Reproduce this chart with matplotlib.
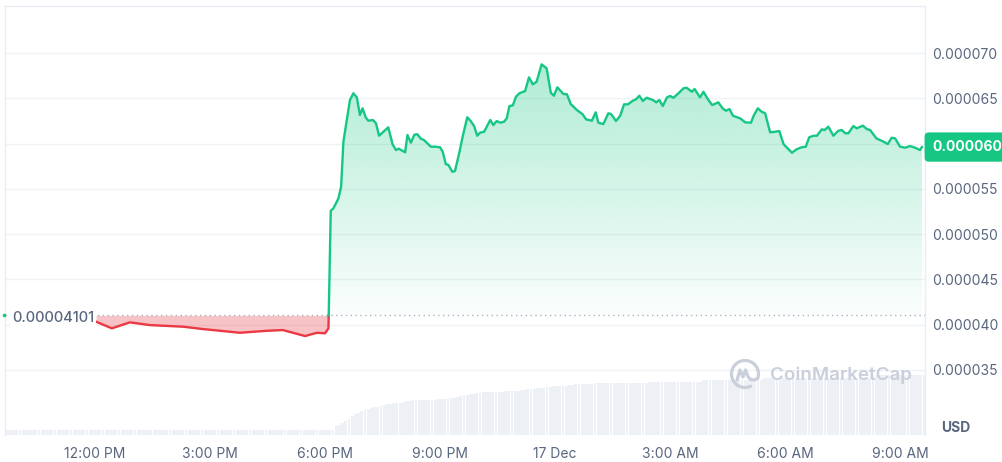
import numpy as np
import matplotlib
matplotlib.use('Agg')
import matplotlib.pyplot as plt
from matplotlib.patches import Polygon, Arc
from matplotlib.transforms import blended_transform_factory
from matplotlib.colors import to_rgb

plt.rcParams['font.family'] = ['Inter', 'DejaVu Sans']

# ---------------- data ----------------
# hours after 12:00 PM (16 Dec); price in micro-USD (1e-6 USD)
hours = [
    0.03, 0.44, 0.91, 1.43, 2.30, 2.82, 3.78, 4.49, 4.90, 5.48, 5.79, 6.00, 6.09,
    6.15, 6.22, 6.35, 6.42, 6.48, 6.57, 6.65, 6.74, 6.83, 6.91,
    6.98, 7.06, 7.13, 7.25, 7.33, 7.41, 7.65, 7.76, 7.85, 7.92,
    8.09, 8.15, 8.24, 8.33, 8.41, 8.50, 8.58, 8.76, 8.87, 9.00,
    9.07, 9.15, 9.22, 9.32, 9.39, 9.50, 9.59, 9.71, 9.80, 9.89,
    9.97, 10.04, 10.15, 10.31, 10.39, 10.48, 10.57, 10.67, 10.74, 10.81,
    10.90, 10.98, 11.07, 11.22, 11.32, 11.42, 11.52, 11.65, 11.78, 11.89,
    11.97, 12.06, 12.22, 12.31, 12.41, 12.57, 12.72, 12.81, 12.96, 13.06,
    13.13, 13.26, 13.39, 13.46, 13.59, 13.70, 13.80, 13.90, 14.03, 14.11,
    14.20, 14.29, 14.39, 14.55, 14.64, 14.72, 14.81, 14.92, 15.00, 15.09,
    15.22, 15.35, 15.43, 15.57, 15.64, 15.78, 15.87, 16.00, 16.10, 16.26,
    16.37, 16.46, 16.55, 16.64, 16.83, 16.96, 17.11, 17.19, 17.29, 17.39,
    17.48, 17.61, 17.74, 17.85, 17.96, 18.04, 18.18, 18.30, 18.43, 18.54,
    18.63, 18.74, 18.83, 18.96, 19.03, 19.13, 19.26, 19.39, 19.48, 19.57,
    19.65, 19.78, 19.87, 20.03, 20.13, 20.22, 20.38, 20.57, 20.68, 20.78,
    20.87, 21.00, 21.13, 21.26, 21.39, 21.52, 21.57,
]
price_micro = [
    40.31, 39.58, 40.24, 39.94, 39.76, 39.50, 39.09, 39.31, 39.39, 38.73, 39.09, 39.03, 39.58,
    52.57, 52.84, 53.94, 55.23, 60.20, 62.60, 64.81, 65.55, 65.10, 63.15,
    63.89, 62.90, 62.52, 62.60, 62.23, 60.86, 61.79, 59.94, 59.28, 59.43,
    59.03, 60.94, 60.09, 60.97, 61.02, 60.53, 60.39, 59.65, 59.65, 59.58,
    59.09, 57.73, 57.62, 56.88, 56.96, 58.92, 60.75, 62.90, 62.49, 61.93,
    60.86, 61.19, 61.30, 62.60, 62.04, 62.49, 62.30, 62.41, 62.78, 64.14,
    64.22, 65.17, 65.55, 65.80, 67.31, 66.54, 66.83, 68.75, 68.31, 65.61,
    65.28, 66.21, 65.47, 65.44, 64.36, 63.70, 63.23, 62.67, 62.52, 63.45,
    62.30, 62.15, 63.34, 63.26, 62.49, 63.07, 64.33, 64.33, 64.73, 64.88,
    65.28, 64.70, 65.06, 64.81, 64.55, 64.81, 64.14, 65.10, 65.25, 65.06,
    65.55, 66.10, 66.17, 65.72, 66.02, 65.10, 65.72, 64.81, 64.25, 64.55,
    63.89, 63.62, 63.81, 63.07, 62.78, 62.34, 62.30, 63.15, 63.89, 63.51,
    63.34, 61.24, 61.30, 61.38, 59.94, 59.58, 58.98, 59.36, 59.58, 59.65,
    60.69, 60.86, 60.86, 61.57, 61.49, 61.86, 60.86, 61.41, 61.49, 61.13,
    61.13, 61.93, 61.68, 61.97, 61.60, 61.49, 60.57, 60.20, 59.94, 60.64,
    60.57, 59.65, 59.54, 59.72, 59.54, 59.28, 59.61,
]
ref_price_micro = 41.01          # open price 0.00004101
ref_label = '0.00004101'
last_label = '0.000060'

# relative (cumulative) volume, one bar per 5 minutes from 9:40 AM
volume_rel = ([5.0] * 103 +
              [8.5, 10, 12, 14, 16, 18.5, 20.5, 22, 23.5, 24.5, 26, 26.5, 27.5,
               28, 29, 30, 30.5, 30.5, 31.5, 31.5, 32, 32.5, 33.5, 34, 34.5] +
              [35] * 7 +
              [35.5, 36, 36, 36.5, 37, 37, 38, 39, 39.5, 40, 40.5, 41, 42, 42, 42.5] +
              [43] * 6 + [43.5] * 3 + [44] * 2 + [45] * 2 + [45.5] * 2 + [46] +
              [46.5] * 2 + [47] + [48] * 2 + [48.5] * 3 + [49] * 2 + [49.5] * 2 +
              [50.5] * 3 + [51] * 3 + [51.5] * 3 + [52] * 14 + [53] * 17 +
              [55] * 19 + [57] * 34 + [59.5] * 17)
volume_start_hour = -2.333

tick_hours = [0, 3, 6, 9, 12, 15, 18, 21]
tick_labels = ['12:00 PM', '3:00 PM', '6:00 PM', '9:00 PM', '17 Dec',
               '3:00 AM', '6:00 AM', '9:00 AM']
price_ticks = [35, 40, 45, 50, 55, 60, 65, 70]

# ---------------- style ----------------
GREEN = '#16c784'
RED = '#ea3943'
TXT = '#58667e'
GRID = '#eff2f5'

W, H = 1003, 462
fig = plt.figure(figsize=(W / 100, H / 100), dpi=100)
L, R, T, B = 4.5, 925, 5.5, 434.5
rect = [L / W, 1 - B / H, (R - L) / W, (B - T) / H]
xlim = (-2.36, 21.65)
ylim = (27.85, 75.25)

# volume axes (behind)
axv = fig.add_axes(rect, zorder=0)
bw = 1 / 12
vt = volume_start_hour + (np.arange(len(volume_rel)) + 0.5) * bw
axv.bar(vt, volume_rel, width=bw * 0.88, color='#edf0f4', linewidth=0)
axv.set_xlim(*xlim)
axv.set_ylim(0, 429)
axv.axis('off')

# price axes
ax = fig.add_axes(rect, zorder=1)
ax.patch.set_alpha(0)
ax.set_xlim(*xlim)
ax.set_ylim(*ylim)

t = np.array(hours, dtype=float)
p = np.array(price_micro, dtype=float)
base = ref_price_micro

tt, pp = [t[0]], [p[0]]
for i in range(1, len(t)):
    if (p[i - 1] - base) * (p[i] - base) < 0:
        f = (base - p[i - 1]) / (p[i] - p[i - 1])
        tt.append(t[i - 1] + f * (t[i] - t[i - 1]))
        pp.append(base)
    tt.append(t[i])
    pp.append(p[i])
tt = np.array(tt)
pp = np.array(pp)
up = pp >= base
dn = pp <= base

# red fill
ax.fill_between(tt, pp, base, where=dn, color=RED, alpha=0.3, linewidth=0, zorder=2)

# green gradient fill
gt, gp = tt[up], pp[up]
verts = np.column_stack([np.r_[gt, gt[-1], gt[0]], np.r_[gp, base, base]])
poly = Polygon(verts, closed=True, facecolor='none', edgecolor='none',
               transform=ax.transData)
ax.add_patch(poly)
n = 256
img = np.zeros((n, 1, 4))
img[..., :3] = to_rgb(GREEN)
img[:, 0, 3] = np.linspace(0.02, 0.34, n)
im = ax.imshow(img, extent=[gt[0], gt[-1], base, gp.max()], origin='lower',
               aspect='auto', zorder=2, interpolation='bilinear')
im.set_clip_path(poly)
ax.set_xlim(*xlim)
ax.set_ylim(*ylim)

# lines
ax.plot(tt, np.where(dn, pp, np.nan), color=RED, lw=1.7, zorder=4,
        solid_joinstyle='round')
ax.plot(tt, np.where(up, pp, np.nan), color=GREEN, lw=1.7, zorder=4,
        solid_joinstyle='round')

# reference line
ax.axhline(base, color='#a7b1c2', lw=1, ls=(0, (1, 2.5)), zorder=3)
ax.annotate(ref_label, xy=(-2.17, base), xytext=(0, -1.8),
            textcoords='offset points', ha='left', va='center', fontsize=10.5,
            fontweight='medium', color=TXT, zorder=5,
            bbox=dict(facecolor='white', edgecolor='none', pad=1.5))
ax.plot([xlim[0]], [base], 'o', ms=1.6, color=GREEN, clip_on=False, zorder=6)

# grid / spines
ax.set_yticks(price_ticks)
ax.grid(axis='y', color=GRID, lw=1, zorder=0)
ax.set_axisbelow(True)
for s in ['top', 'left', 'right']:
    ax.spines[s].set_color('#e9edf2')
    ax.spines[s].set_linewidth(1)
ax.spines['bottom'].set_visible(False)


def price_fmt(v, _):
    s = f'{v * 1e-6:.6f}'
    return '' if s == last_label else s


ax.yaxis.tick_right()
ax.yaxis.set_major_formatter(plt.FuncFormatter(price_fmt))
ax.tick_params(axis='y', length=0, pad=5, labelsize=10, labelcolor=TXT)
ax.set_xticks(tick_hours, tick_labels)
ax.tick_params(axis='x', length=0, pad=9, labelsize=10, labelcolor=TXT)

# current price tag
blend = blended_transform_factory(ax.transAxes, ax.transData)
ax.annotate(last_label, xy=(1, p[-1]), xycoords=blend, xytext=(5.2, 0),
            textcoords='offset points', ha='left', va='center', color='white',
            fontsize=10, fontweight='bold', annotation_clip=False, zorder=6,
            bbox=dict(boxstyle='round,pad=0.55,rounding_size=0.3', fc=GREEN,
                      ec='none'))

fig.text(956 / W, 1 - 428 / H, 'USD', ha='center', va='center',
         fontweight='bold', fontsize=10, color=TXT)

# watermark
WM = '#c9cfdb'
fig.text(770 / W, 1 - 375 / H, 'CoinMarketCap', ha='left', va='center',
         fontsize=13.5, fontweight='semibold', color=WM, zorder=10)
axl = fig.add_axes([(745 - 16) / W, 1 - (374 + 16) / H, 32 / W, 32 / H], zorder=3)
axl.set_xlim(-16, 16)
axl.set_ylim(-16, 16)
axl.axis('off')
axl.add_patch(Arc((0, 0), 27, 27, theta1=-20, theta2=300, lw=2.3, color=WM))
axl.plot([-8, -5, -2, 0.5, 3, 5.5, 9.5, 12.5], [-6, 4, -3, 4, -2.5, -5.5, -6, -4.5],
         color=WM, lw=2.3, solid_capstyle='round', solid_joinstyle='round')

fig.savefig('out.png', dpi=100)
